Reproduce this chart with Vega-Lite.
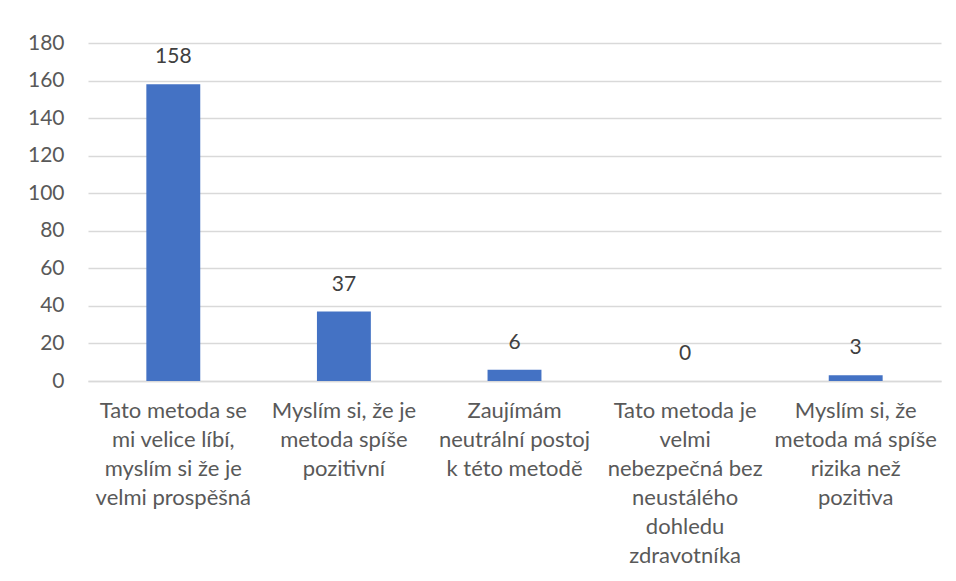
{
  "$schema": "https://vega.github.io/schema/vega-lite/v6.json",
  "autosize": "none",
  "width": 853,
  "height": 338,
  "padding": {"left": 88, "top": 43, "right": 15, "bottom": 200},
  "background": "white",
  "config": {
    "view": {"stroke": null},
    "font": "Lato"
  },
  "data": {
    "values": [
      {"category": "Tato metoda se|mi velice líbí,|myslím si že je|velmi prospěšná", "count": 158},
      {"category": "Myslím si, že je|metoda spíše|pozitivní", "count": 37},
      {"category": "Zaujímám|neutrální postoj|k této metodě", "count": 6},
      {"category": "Tato metoda je|velmi|nebezpečná bez|neustálého|dohledu|zdravotníka", "count": 0},
      {"category": "Myslím si, že|metoda má spíše|rizika než|pozitiva", "count": 3}
    ]
  },
  "encoding": {
    "x": {
      "field": "category",
      "type": "nominal",
      "sort": null,
      "scale": {"paddingInner": 0.684, "paddingOuter": 0.342},
      "axis": {
        "title": null,
        "labelAngle": 0,
        "labelExpr": "split(datum.label, '|')",
        "labelFont": "Lato",
        "labelFontSize": 22,
        "labelColor": "#595959",
        "labelLineHeight": 29,
        "labelPadding": 19,
        "labelBaseline": "top",
        "labelLimit": 300,
        "ticks": false,
        "domain": true,
        "domainColor": "#d9d9d9",
        "domainWidth": 1.5
      }
    },
    "y": {
      "field": "count",
      "type": "quantitative",
      "scale": {"domain": [0, 180]},
      "axis": {
        "title": null,
        "values": [0, 20, 40, 60, 80, 100, 120, 140, 160, 180],
        "labelFont": "Lato",
        "labelFontSize": 21,
        "labelColor": "#595959",
        "labelPadding": 24,
        "ticks": false,
        "domain": false,
        "gridColor": "#d9d9d9",
        "gridWidth": 1.5
      }
    }
  },
  "layer": [
    {"mark": {"type": "bar", "color": "#4472C4"}},
    {
      "mark": {"type": "text", "baseline": "middle", "dy": -27, "fontSize": 21, "font": "Lato", "color": "#404040"},
      "encoding": {"text": {"field": "count", "type": "quantitative"}}
    }
  ]
}
